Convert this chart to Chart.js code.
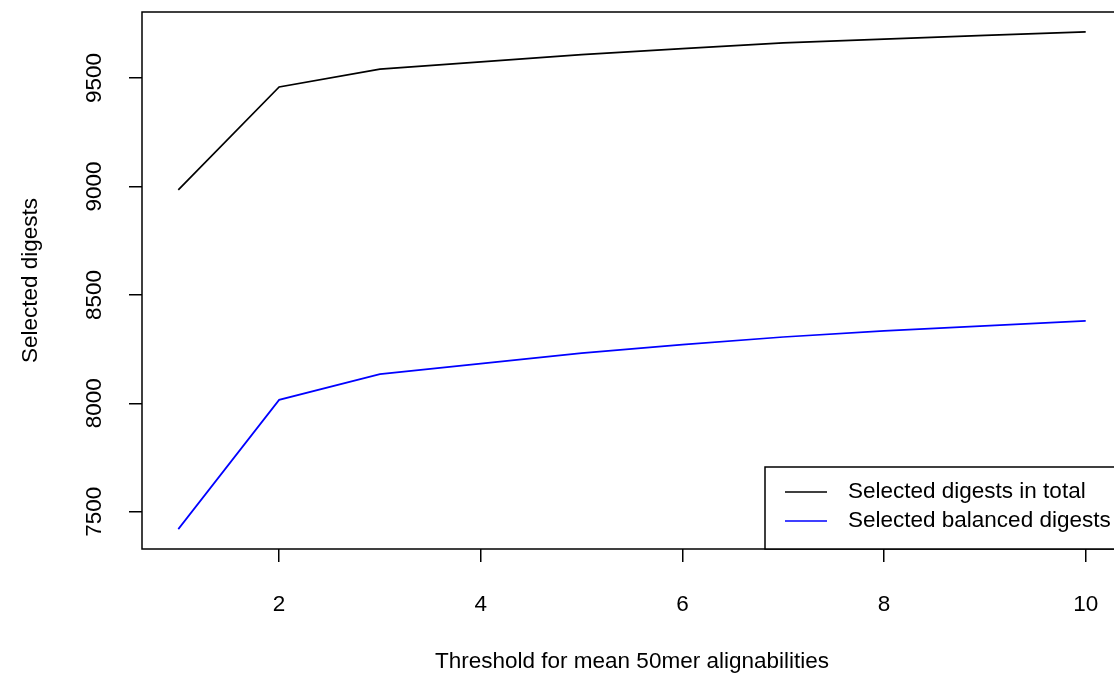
<!DOCTYPE html>
<html>
<head>
<meta charset="utf-8">
<script src="https://cdn.jsdelivr.net/npm/chart.js@4/dist/chart.umd.min.js"></script>
<style>
  html, body { margin: 0; padding: 0; background: #fff; overflow: hidden; }
  #chart { display: block; }
</style>
</head>
<body>
<canvas id="chart" width="1130" height="684"></canvas>
<script>
// data
const thresholds = [1, 2, 3, 4, 5, 6, 7, 8, 9, 10];
const totalDigests = [8984, 9459, 9541, 9575, 9608, 9636, 9662, 9680, 9697, 9713];
const balancedDigests = [7420, 8016, 8135, 8183, 8232, 8271, 8306, 8334, 8357, 8380];
const xTickValues = [2, 4, 6, 8, 10];
const yTickValues = [7500, 8000, 8500, 9000, 9500];
const seriesNames = ['Selected digests in total', 'Selected balanced digests'];
const seriesColors = ['#000000', '#0000ff'];
const xTitle = 'Threshold for mean 50mer alignabilities';
const yTitle = 'Selected digests';

const FONT_FAMILY = '"Liberation Sans", Arial, Helvetica, sans-serif';
const FONT_SIZE = 22.5;
const FONT = FONT_SIZE + 'px ' + FONT_FAMILY;

// R-style axis limits: data range extended by 4% each side
function rRange(vals) {
  const lo = Math.min(...vals), hi = Math.max(...vals);
  const pad = (hi - lo) * 0.04;
  return [lo - pad, hi + pad];
}
const [xMin, xMax] = rRange(thresholds);
const [yMin, yMax] = rRange(totalDigests.concat(balancedDigests));

function toPoints(ys) {
  return thresholds.map((x, i) => ({ x: x, y: ys[i] }));
}

// box, rotated y tick labels and the bottom-right legend, drawn like base R
const rStyle = {
  id: 'rStyle',
  afterDraw(chart) {
    const { ctx, chartArea: a } = chart;
    const y = chart.scales.y;
    ctx.save();
    ctx.strokeStyle = '#000';
    ctx.lineWidth = 1.5;
    ctx.strokeRect(a.left, a.top, a.right - a.left, a.bottom - a.top);

    ctx.font = FONT;
    ctx.fillStyle = '#000';
    ctx.textAlign = 'center';
    ctx.textBaseline = 'middle';
    y.ticks.forEach(t => {
      const py = y.getPixelForValue(t.value);
      ctx.save();
      ctx.translate(95, py);
      ctx.rotate(-Math.PI / 2);
      ctx.fillText(String(t.value), 0, 0);
      ctx.restore();
    });

    // legend
    const lx = 765, ly = 467;
    ctx.fillStyle = '#fff';
    ctx.fillRect(lx, ly, a.right - lx, a.bottom - ly);
    ctx.strokeRect(lx, ly, a.right - lx, a.bottom - ly);
    ctx.textAlign = 'left';
    chart.data.datasets.forEach((ds, i) => {
      const rowY = ly + 25 + i * 29;
      ctx.strokeStyle = ds.borderColor;
      ctx.beginPath();
      ctx.moveTo(785, rowY);
      ctx.lineTo(827, rowY);
      ctx.stroke();
      ctx.fillStyle = '#000';
      ctx.fillText(ds.label, 848, rowY);
    });
    ctx.restore();
  }
};

new Chart(document.getElementById('chart'), {
  type: 'line',
  data: {
    datasets: [
      { label: seriesNames[0], data: toPoints(totalDigests), borderColor: seriesColors[0] },
      { label: seriesNames[1], data: toPoints(balancedDigests), borderColor: seriesColors[1] }
    ]
  },
  options: {
    responsive: false,
    animation: false,
    layout: { padding: { left: 0, top: 12, right: 8, bottom: 0 } },
    elements: {
      line: { borderWidth: 1.7, tension: 0, fill: false },
      point: { radius: 0 }
    },
    plugins: { legend: { display: false }, tooltip: { enabled: false } },
    scales: {
      x: {
        type: 'linear',
        min: xMin,
        max: xMax,
        afterBuildTicks: s => { s.ticks = xTickValues.map(v => ({ value: v })); },
        afterFit: s => { s.height = 135; },
        grid: { drawOnChartArea: false, drawTicks: true, tickLength: 13, color: '#000', lineWidth: 1.5 },
        border: { display: false },
        ticks: {
          color: '#000',
          font: { family: FONT_FAMILY, size: FONT_SIZE },
          padding: 29,
          maxRotation: 0,
          autoSkip: false,
          callback: v => String(v)
        },
        title: {
          display: true,
          text: xTitle,
          color: '#000',
          font: { family: FONT_FAMILY, size: FONT_SIZE },
          padding: { top: 0, bottom: 9 }
        }
      },
      y: {
        type: 'linear',
        min: yMin,
        max: yMax,
        afterBuildTicks: s => { s.ticks = yTickValues.map(v => ({ value: v })); },
        afterFit: s => { s.width = 142; },
        grid: { drawOnChartArea: false, drawTicks: true, tickLength: 13, color: '#000', lineWidth: 1.5 },
        border: { display: false },
        ticks: { display: false },
        title: {
          display: true,
          text: yTitle,
          color: '#000',
          font: { family: FONT_FAMILY, size: FONT_SIZE },
          padding: { top: 17, bottom: 0 }
        }
      }
    }
  },
  plugins: [rStyle]
});
</script>
</body>
</html>
